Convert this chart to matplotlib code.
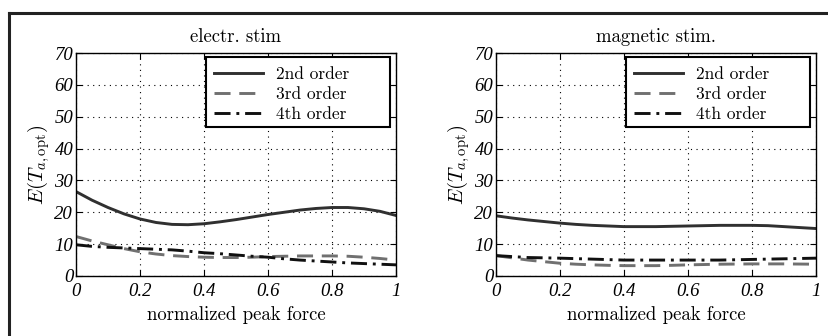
import numpy as np
import matplotlib
matplotlib.use("Agg")
import matplotlib.pyplot as plt
from matplotlib.lines import Line2D
from matplotlib.patches import Rectangle

plt.rcParams["mathtext.fontset"] = "cm"
plt.rcParams["font.family"] = ["cmr10", "DejaVu Serif"]
plt.rcParams["axes.unicode_minus"] = False

# normalized peak force
force = np.round(np.arange(0, 1.0001, 0.05), 2)

# electrical stimulation
elec_2nd = [26.5, 23.8, 21.5, 19.5, 17.9, 16.8, 16.2, 16.1, 16.4, 17.0, 17.7,
            18.5, 19.3, 20.0, 20.7, 21.2, 21.5, 21.5, 21.1, 20.3, 19.0]
elec_3rd = [12.4, 11.0, 9.8, 8.6, 7.6, 6.9, 6.4, 6.1, 5.9, 5.8, 5.8,
            5.9, 6.1, 6.2, 6.3, 6.3, 6.3, 6.2, 5.9, 5.5, 5.0]
elec_4th = [9.8, 9.3, 9.0, 8.8, 8.6, 8.4, 8.2, 7.8, 7.3, 7.0, 6.6,
            6.2, 5.9, 5.4, 5.0, 4.7, 4.4, 4.1, 3.9, 3.7, 3.5]

# magnetic stimulation
magn_2nd = [18.9, 18.2, 17.6, 17.1, 16.6, 16.2, 15.9, 15.7, 15.5, 15.5, 15.5,
            15.6, 15.7, 15.8, 15.9, 15.9, 15.9, 15.8, 15.5, 15.2, 14.9]
magn_3rd = [6.4, 5.7, 5.0, 4.5, 4.0, 3.7, 3.5, 3.35, 3.25, 3.25, 3.25,
            3.35, 3.5, 3.6, 3.7, 3.75, 3.8, 3.8, 3.8, 3.75, 3.7]
magn_4th = [6.4, 6.1, 5.8, 5.7, 5.6, 5.45, 5.3, 5.15, 5.0, 5.0, 5.0,
            5.0, 5.0, 5.0, 5.0, 5.1, 5.2, 5.3, 5.4, 5.5, 5.6]

titles = ["electr. stim", "magnetic stim."]
series_labels = ["2nd order", "3rd order", "4th order"]
xticks = [0, 0.2, 0.4, 0.6, 0.8, 1]
xtick_labels = ["0", "0.2", "0.4", "0.6", "0.8", "1"]
yticks = [0, 10, 20, 30, 40, 50, 60, 70]
ytick_labels = ["0", "10", "20", "30", "40", "50", "60", "70"]

panels = [(elec_2nd, elec_3rd, elec_4th), (magn_2nd, magn_3rd, magn_4th)]
styles = [
    dict(color="#303030", linestyle="-", linewidth=2.1),
    dict(color="#707070", linestyle=(0, (5.5, 3)), linewidth=2.1),
    dict(color="#101010", linestyle=(0, (5.5, 2, 1, 2)), linewidth=2.1),
]

W, H = 829, 336
AX_W, AX_H = 320, 223
fig = plt.figure(figsize=(W / 100, H / 100), dpi=100)

lefts = [76, 496]
tick_font = dict(family=["Liberation Serif", "DejaVu Serif"], style="italic", size=13.5)

# legend box in axes pixels (from the axes' lower-left corner)
box_x0, box_x1 = 130, 314
box_y0, box_y1 = 149, 219

for left, title, data in zip(lefts, titles, panels):
    ax = fig.add_axes([left / W, (H - 276) / H, AX_W / W, AX_H / H])
    for vals, lab, st in zip(data, series_labels, styles):
        ax.plot(force, vals, label=lab, **st)
    ax.set_xlim(0, 1)
    ax.set_ylim(0, 70)
    ax.set_xticks(xticks)
    ax.set_xticklabels(xtick_labels, fontdict=tick_font)
    ax.set_yticks(yticks)
    ax.set_yticklabels(ytick_labels, fontdict=tick_font)
    ax.tick_params(direction="in", top=True, right=True, length=4, width=0.8, pad=2)
    ax.tick_params(axis="x", pad=5)
    ax.grid(True, linestyle=(0, (1, 4)), color="black", linewidth=0.8)
    for sp in ax.spines.values():
        sp.set_linewidth(1.0)
    ax.set_title(title, fontsize=13.5, pad=8)
    ax.set_xlabel("normalized peak force", fontsize=13.5, labelpad=4)
    ax.set_ylabel(r"$E(T_{a,\mathrm{opt}})$", fontsize=15, labelpad=2)

    frame = Rectangle((box_x0 / AX_W, box_y0 / AX_H),
                      (box_x1 - box_x0) / AX_W, (box_y1 - box_y0) / AX_H,
                      transform=ax.transAxes, facecolor="white", edgecolor="black",
                      linewidth=1.5, zorder=4)
    ax.add_patch(frame)
    ax.legend(loc="upper left",
              bbox_to_anchor=((box_x0 + 8) / AX_W, (box_y1 - 10) / AX_H),
              borderaxespad=0, borderpad=0, frameon=False,
              fontsize=12.5, handlelength=2.8, handletextpad=0.75, labelspacing=0.25)

# outer figure frame (left and top edges)
fig.add_artist(Line2D([9.5 / W, 9.5 / W], [0, 1 - 12.5 / H], transform=fig.transFigure,
                      color="#222222", linewidth=2.2, solid_capstyle="projecting"))
fig.add_artist(Line2D([9.5 / W, 1], [1 - 12.5 / H, 1 - 12.5 / H], transform=fig.transFigure,
                      color="#222222", linewidth=2.2, solid_capstyle="projecting"))

fig.savefig("out.png", dpi=100)
